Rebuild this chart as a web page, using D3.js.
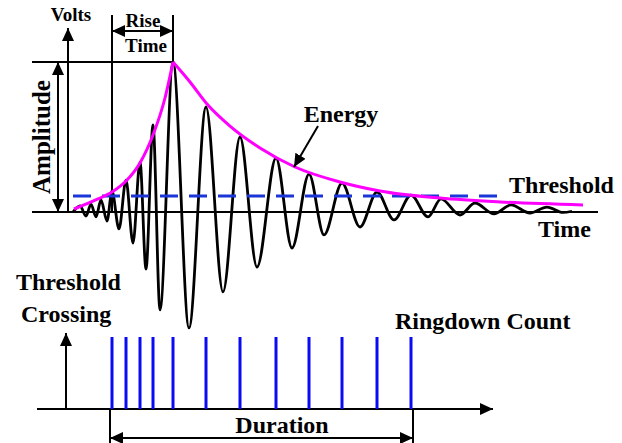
<!DOCTYPE html>
<html>
<head>
<meta charset="utf-8">
<script src="https://cdn.jsdelivr.net/npm/d3@7"></script>
<style>
body { margin: 0; background: #fff; }
text { font-family: "Liberation Serif", "Times New Roman", serif; font-weight: bold; fill: #000; }
</style>
</head>
<body>
<div id="chart"></div>
<script>
// burst waveform, read as its turning points (time units, volts relative to peak)
var waveTime  = [5, 12, 18, 23, 28, 33, 39, 44, 51, 58, 65, 72, 78, 85, 92, 105, 121, 138, 155, 172, 189, 208, 224, 241, 256, 274, 292, 309, 326, 343, 360, 373, 392, 407, 426, 443, 462, 479, 495, 504];
var waveVolts = [0, 0.04, -0.027, 0.053, -0.033, 0.08, -0.06, 0.14, -0.113, 0.213, -0.207, 0.333, -0.38, 0.58, -0.653, 1.0, -0.773, 0.70, -0.533, 0.50, -0.367, 0.36, -0.24, 0.253, -0.153, 0.193, -0.10, 0.133, -0.053, 0.113, -0.033, 0.087, -0.02, 0.06, -0.013, 0.047, -0.007, 0.033, -0.003, 0.005];

// energy envelope, rising and decaying parts
var riseTime   = [6, 30, 44, 59, 72, 85, 97, 105];
var riseVolts  = [0.02, 0.087, 0.133, 0.213, 0.327, 0.513, 0.76, 1.0];
var decayTime  = [105, 122, 139, 162, 192, 227, 272, 312, 372, 432, 515];
var decayVolts = [1.0, 0.867, 0.72, 0.573, 0.427, 0.3, 0.2, 0.14, 0.093, 0.067, 0.047];

var thresholdVolts = 0.107;
var thresholdSpan = [5, 439];

(function() {
	var width = 622;
	var height = 443;

	var svg = d3.select('#chart')
		.append('svg')
		.attr('width', width)
		.attr('height', height);

	var x = d3.scaleLinear().domain([0, 530]).range([68, 598]);
	var y = d3.scaleLinear().domain([0, 1]).range([212, 62]);
	var yCount = d3.scaleLinear().domain([0, 1]).range([409, 337]);

	svg.append('defs').append('marker')
		.attr('id', 'arrow')
		.attr('viewBox', '-13 -6 13 12')
		.attr('refX', 0)
		.attr('refY', 0)
		.attr('markerWidth', 13)
		.attr('markerHeight', 12)
		.attr('markerUnits', 'userSpaceOnUse')
		.attr('orient', 'auto-start-reverse')
		.append('path')
		.attr('d', 'M0,0L-13,-6L-13,6Z')
		.attr('fill', '#000');

	function seg(x1, y1, x2, y2, start, end) {
		var l = svg.append('line')
			.attr('x1', x1).attr('y1', y1)
			.attr('x2', x2).attr('y2', y2)
			.attr('stroke', '#000')
			.attr('stroke-width', 2);
		if (start) l.attr('marker-start', 'url(#arrow)');
		if (end) l.attr('marker-end', 'url(#arrow)');
		return l;
	}

	function label(txt, px, py, size, anchor) {
		return svg.append('text')
			.attr('x', px)
			.attr('y', py)
			.attr('font-size', size)
			.attr('text-anchor', anchor || 'start')
			.text(txt);
	}

	var wave = waveTime.map(function(t, i) { return [t, waveVolts[i]]; });
	var peak = wave.reduce(function(a, b) { return b[1] > a[1] ? b : a; });
	// peaks above threshold = threshold crossings
	var crossings = wave.filter(function(d, i) {
		return d[1] >= thresholdVolts && i > 0 && d[1] > wave[i - 1][1];
	}).map(function(d) { return d[0]; });
	var first = crossings[0];
	var last = crossings[crossings.length - 1];

	// top panel axes
	seg(32, y(0), x(530), y(0));
	seg(x(0), y(0), x(0), 28, false, true);
	seg(32, y(1), x(peak[0]), y(1));
	seg(58, y(1), 58, y(0), true, true);

	// rise time
	seg(x(first), 15, x(first), y(0));
	seg(x(peak[0]), 15, x(peak[0]), y(1));
	seg(x(first), 31, x(peak[0]), 31, true, true);

	var lineGen = d3.line()
		.x(function(d) { return x(d[0]); })
		.y(function(d) { return y(d[1]); });

	svg.append('path')
		.datum(wave)
		.attr('d', lineGen.curve(d3.curveMonotoneX))
		.attr('fill', 'none')
		.attr('stroke', '#000')
		.attr('stroke-width', 2.8)
		.attr('stroke-linejoin', 'round');

	svg.append('line')
		.attr('x1', x(thresholdSpan[0]))
		.attr('x2', x(thresholdSpan[1]))
		.attr('y1', y(thresholdVolts))
		.attr('y2', y(thresholdVolts))
		.attr('stroke', '#1a35d8')
		.attr('stroke-width', 3)
		.attr('stroke-dasharray', '18,11');

	var envGen = d3.line()
		.x(function(d) { return x(d[0]); })
		.y(function(d) { return y(d[1]); })
		.curve(d3.curveMonotoneX);

	[[riseTime, riseVolts], [decayTime, decayVolts]].forEach(function(part) {
		svg.append('path')
			.datum(part[0].map(function(t, i) { return [t, part[1][i]]; }))
			.attr('d', envGen)
			.attr('fill', 'none')
			.attr('stroke', '#ff00ff')
			.attr('stroke-width', 3);
	});

	// energy pointer
	seg(318, 126, 294, 167, false, true);

	label('Volts', 71, 21, 19, 'middle');
	label('Rise', 143, 27, 19, 'middle');
	label('Time', 146, 52, 19, 'middle');
	label('Energy', 341, 122, 24, 'middle');
	label('Threshold', 509, 193, 24);
	label('Time', 538, 237, 24);
	svg.append('text')
		.attr('transform', 'translate(50,137) rotate(-90)')
		.attr('font-size', 25)
		.attr('text-anchor', 'middle')
		.text('Amplitude');

	// lower panel: threshold crossings
	seg(37, yCount(0), 493, yCount(0), false, true);
	seg(66, yCount(0), 66, 333, false, true);

	svg.selectAll('.cross')
		.data(crossings)
		.enter()
		.append('line')
		.attr('class', 'cross')
		.attr('x1', function(d) { return x(d); })
		.attr('x2', function(d) { return x(d); })
		.attr('y1', yCount(0))
		.attr('y2', yCount(1))
		.attr('stroke', '#0a0af5')
		.attr('stroke-width', 3);

	seg(x(first) - 2, yCount(0), x(first) - 2, 443);
	seg(x(last) + 2, yCount(0), x(last) + 2, 443);
	seg(x(first) - 2, 438, x(last) + 2, 438, true, true);

	label('Threshold', 16, 290, 24);
	label('Crossing', 21, 322, 24);
	label('Ringdown Count', 395, 329, 24);
	label('Duration', 282, 433, 24, 'middle');
})();
</script>
</body>
</html>
